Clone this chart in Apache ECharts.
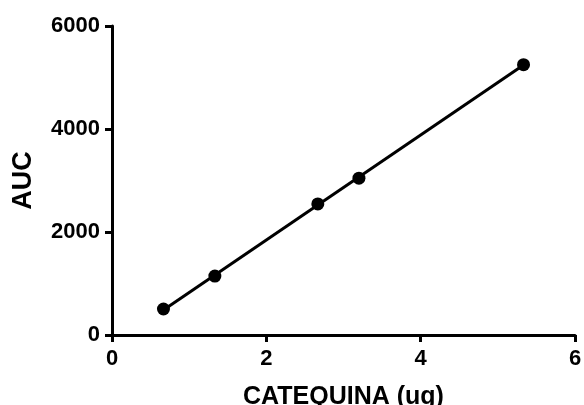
<!DOCTYPE html>
<html><head><meta charset="utf-8">
<script src="https://cdn.jsdelivr.net/npm/echarts@6/dist/echarts.min.js"></script>
<style>html,body{margin:0;padding:0;background:#fff}#c{width:584px;height:405px}</style>
</head><body><div id="c"></div>
<script>
const xValues = [0.667, 1.333, 2.667, 3.2, 5.333];
const yValues = [505, 1145, 2545, 3045, 5250];
const xTicks = [0, 2, 4, 6];
const yTicks = [0, 2000, 4000, 6000];

// least-squares fit line through the data
const n = xValues.length;
const mx = xValues.reduce((a,b)=>a+b,0)/n, my = yValues.reduce((a,b)=>a+b,0)/n;
let sxy=0,sxx=0; for(let i=0;i<n;i++){sxy+=(xValues[i]-mx)*(yValues[i]-my);sxx+=(xValues[i]-mx)**2;}
const slope=sxy/sxx, icpt=my-slope*mx;
const xmin=Math.min(...xValues), xmax=Math.max(...xValues);
const fit=[[xmin,icpt+slope*xmin],[xmax,icpt+slope*xmax]];

const font='"Liberation Sans", Arial, sans-serif';
const chart = echarts.init(document.getElementById('c'), null, {renderer:'canvas'});
chart.setOption({
  animation:false,
  grid:{left:112,right:9,top:26,bottom:70,containLabel:false,outerBoundsMode:'none'},
  xAxis:{type:'value',min:xTicks[0],max:xTicks[xTicks.length-1],interval:xTicks[1]-xTicks[0],
    name:'CATEQUINA (ug)',nameLocation:'middle',nameGap:50,nameMoveOverlap:false,
    nameTextStyle:{fontFamily:font,fontWeight:'bold',fontSize:25,color:'#000'},
    axisLine:{onZero:false,lineStyle:{color:'#000',width:3}},
    axisTick:{length:7,lineStyle:{color:'#000',width:3}},
    axisLabel:{fontFamily:font,fontWeight:'bold',fontSize:22,color:'#000',margin:13,formatter:v=>String(v)},
    splitLine:{show:false}},
  yAxis:{type:'value',min:yTicks[0],max:yTicks[yTicks.length-1],interval:yTicks[1]-yTicks[0],
    name:'AUC',nameLocation:'middle',nameGap:75,nameRotate:90,nameMoveOverlap:false,
    nameTextStyle:{fontFamily:font,fontWeight:'bold',fontSize:27,color:'#000'},
    axisLine:{show:true,onZero:false,lineStyle:{color:'#000',width:3}},
    axisTick:{show:true,length:7,lineStyle:{color:'#000',width:3}},
    axisLabel:{fontFamily:font,fontWeight:'bold',fontSize:22,color:'#000',margin:12,formatter:v=>String(v)},
    splitLine:{show:false}},
  series:[
    {type:'line',data:fit,symbol:'none',lineStyle:{color:'#000',width:3},z:2},
    {type:'scatter',data:xValues.map((x,i)=>[x,yValues[i]]),symbol:'circle',symbolSize:13,
     itemStyle:{color:'#000',opacity:1},z:3}
  ]
});
</script></body></html>
